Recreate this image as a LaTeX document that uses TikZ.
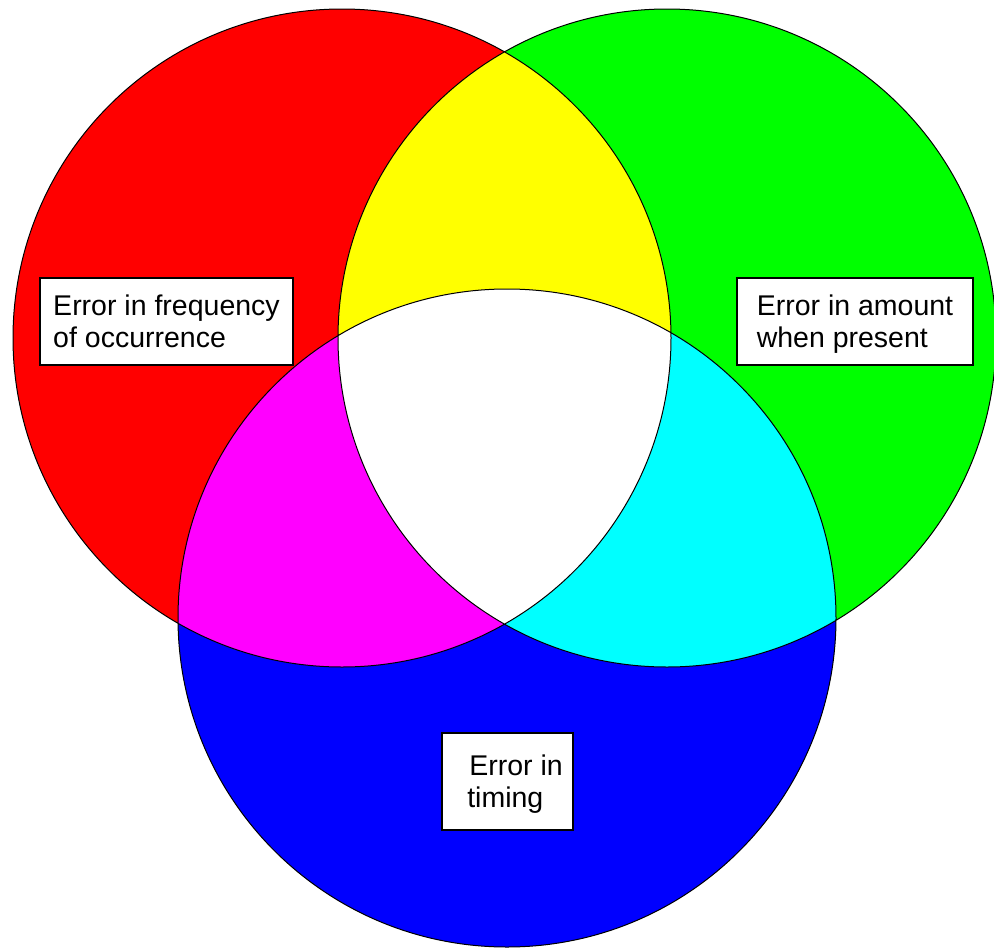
\documentclass[tikz,border=0pt]{standalone}
\usepackage{fontspec}
\setmainfont{Liberation Sans}
\definecolor{setred}{RGB}{255,0,0}
\definecolor{setgreen}{RGB}{0,255,0}
\definecolor{setblue}{RGB}{0,0,255}
\definecolor{setyellow}{RGB}{255,255,0}
\definecolor{setmagenta}{RGB}{255,0,255}
\definecolor{setcyan}{RGB}{0,255,255}

\begin{document}
\begin{tikzpicture}[x=1pt,y=-1pt,
  every node/.style={font=\fontsize{28.5}{32}\selectfont},
  lbl/.style={draw=black,line width=1.2pt,fill=white,align=left,text depth=0pt,minimum height=87pt},
  rim/.style={draw=black,line width=1pt}]
\useasboundingbox (0,0) rectangle (994,951);
\def\rad{329}
\coordinate (cr) at (342,338);
\coordinate (cg) at (667,338);
\coordinate (cb) at (507,618);
% the three sets
\fill[setred] (cr) circle (\rad);
\fill[setgreen] (cg) circle (\rad);
\fill[setblue] (cb) circle (\rad);
% overlaps
\begin{scope}
  \clip (cg) circle (\rad);
  \fill[setcyan] (cb) circle (\rad);
\end{scope}
\begin{scope}
  \clip (cr) circle (\rad);
  \fill[setyellow] (cg) circle (\rad);
  \fill[setmagenta] (cb) circle (\rad);
  \clip (cg) circle (\rad);
  \fill[white] (cb) circle (\rad);
\end{scope}
\draw[rim] (cr) circle (\rad) (cg) circle (\rad) (cb) circle (\rad);
% labels
\node[lbl,minimum width=253pt] (freq) at (166.5,321.5) {Error in frequency\\of occurrence};
\node[lbl,minimum width=236pt] (amount) at (855,321.5) {Error in amount\\when present};
\node[lbl,minimum width=131pt,minimum height=97pt] (timing) at (507.5,781.5) {\hspace*{17pt}Error in\\\hspace*{15pt}timing};
\end{tikzpicture}
\end{document}
